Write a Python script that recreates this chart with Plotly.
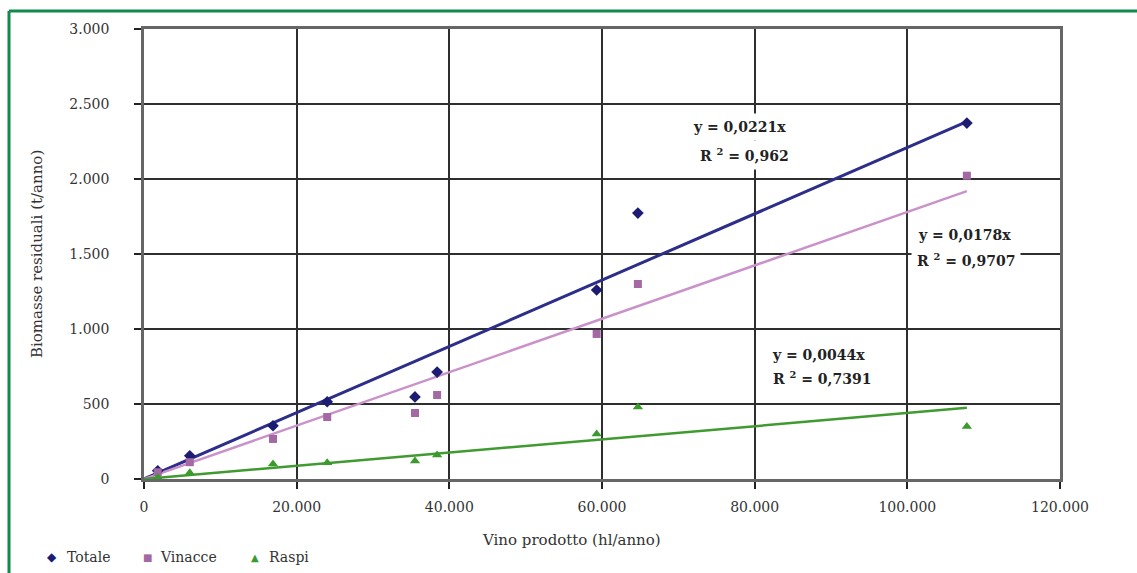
import plotly.graph_objects as go

# Vino prodotto (hl/anno) per cantina
vino = [1800, 6000, 16900, 24000, 35500, 38400, 59300, 64700, 107800]
# Biomasse residuali (t/anno)
totale = [55, 155, 355, 515, 547, 713, 1260, 1773, 2373]
vinacce = [45, 112, 267, 413, 440, 560, 967, 1300, 2022]
raspi = [10, 42, 100, 108, 120, 160, 300, 480, 350]

# Coefficienti delle rette di regressione (intercetta nulla)
pend_totale, r2_totale = 0.0221, "0,962"
pend_vinacce, r2_vinacce = 0.0178, "0,9707"
pend_raspi, r2_raspi = 0.0044, "0,7391"

serie = ["Totale", "Vinacce", "Raspi"]
x_ticks = [0, 20000, 40000, 60000, 80000, 100000, 120000]
y_ticks = [0, 500, 1000, 1500, 2000, 2500, 3000]

FONT = "DejaVu Serif"
C_TOT, C_TOT_L = "#1c1c72", "#2d2d8a"
C_VIN, C_VIN_L = "#a468a4", "#c992c9"
C_RAS, C_RAS_L = "#3a9a2c", "#3f9a30"

# area del grafico in pixel, per convertire posizioni in coordinate "paper"
L, R, T, B, W, H = 144, 77, 29, 94, 1137, 573
PW, PH = W - L - R, H - T - B


def px(x):
    return (x - L) / PW


def py(y):
    return (H - B - y) / PH


def fmt(v):
    s = f"{v:.4f}".rstrip("0")
    return s.replace(".", ",")


fig = go.Figure()

x_fit = [0, max(vino)]
for pend, col, w in [(pend_totale, C_TOT_L, 3), (pend_vinacce, C_VIN_L, 2.5),
                     (pend_raspi, C_RAS_L, 2.5)]:
    fig.add_trace(go.Scatter(
        x=x_fit, y=[pend * x for x in x_fit], mode="lines",
        line=dict(color=col, width=w), showlegend=False, hoverinfo="skip"))

simboli = [("diamond", C_TOT, 9, "◆", 12),
           ("square", C_VIN, 8, "■", 10),
           ("triangle-up", C_RAS, 9, "▲", 10)]
for nome, vals, (sym, col, size, _, _) in zip(serie, [totale, vinacce, raspi], simboli):
    fig.add_trace(go.Scatter(
        x=vino, y=vals, mode="markers", name=nome, showlegend=False,
        marker=dict(symbol=sym, color=col, size=size, line=dict(width=0))))

axis_common = dict(
    showgrid=True, gridcolor="#2e2e2e", gridwidth=2,
    showline=True, linecolor="#666666", linewidth=2.5, mirror=True,
    ticks="outside", ticklen=7, tickwidth=1.5, tickcolor="#222222",
    zeroline=False, tickfont=dict(family=FONT, size=14, color="#333333"),
    tickformat=",d",
)

fig.update_xaxes(range=[0, 120000], tickvals=x_ticks, ticklabelstandoff=6,
                 **axis_common)
fig.update_yaxes(range=[0, 3000], tickvals=y_ticks, ticklabelstandoff=22,
                 **axis_common)

ann_font = dict(family=FONT, size=14, color="#222222", weight="bold")
labels = [
    (78040, 2347, f"y = {fmt(pend_totale)}x"),
    (78700, 2160, f"R <sup>2</sup> = {r2_totale}"),
    (107450, 1627, f"y = {fmt(pend_vinacce)}x"),
    (107700, 1460, f"R <sup>2</sup> = {r2_vinacce}"),
    (88370, 827, f"y = {fmt(pend_raspi)}x"),
    (88760, 673, f"R <sup>2</sup> = {r2_raspi}"),
]
for x, y, t in labels:
    fig.add_annotation(x=x, y=y, text=t, showarrow=False, font=ann_font,
                       bgcolor="white", borderpad=5)

fig.add_annotation(xref="paper", yref="paper", x=px(571), y=py(540),
                   xanchor="center", yanchor="middle",
                   text="Vino prodotto (hl/anno)", showarrow=False,
                   font=dict(family=FONT, size=15, color="#333333"))
fig.add_annotation(xref="paper", yref="paper", x=px(37), y=0.5,
                   xanchor="center", yanchor="middle",
                   text="Biomasse residuali (t/anno)", showarrow=False,
                   textangle=-90,
                   font=dict(family=FONT, size=15, color="#333333"))

# legenda in basso a sinistra
leg_pos = [(52, 65), (147, 158), (255, 267)]
for nome, (_, col, _, glyph, gsize), (xs, xt) in zip(serie, simboli, leg_pos):
    fig.add_annotation(xref="paper", yref="paper", x=px(xs), y=py(557),
                       xanchor="center", yanchor="middle", showarrow=False,
                       text=glyph, font=dict(family="DejaVu Sans", size=gsize, color=col))
    fig.add_annotation(xref="paper", yref="paper", x=px(xt), y=py(557),
                       xanchor="left", yanchor="middle", showarrow=False,
                       text=nome, font=dict(family=FONT, size=14, color="#333333"))

# cornice verde (lati superiore e sinistro)
GREEN = "#118a4b"
fig.add_shape(type="line", xref="paper", yref="paper", x0=px(9), x1=px(1140),
              y0=py(11), y1=py(11), line=dict(color=GREEN, width=3))
fig.add_shape(type="line", xref="paper", yref="paper", x0=px(9), x1=px(9),
              y0=py(11), y1=py(580), line=dict(color=GREEN, width=3))

fig.update_layout(
    width=W, height=H,
    margin=dict(l=L, r=R, t=T, b=B),
    paper_bgcolor="white", plot_bgcolor="white",
    font=dict(family=FONT, size=14, color="#333333"),
    separators=",.",
    showlegend=False,
)

fig.write_html("out.html")
